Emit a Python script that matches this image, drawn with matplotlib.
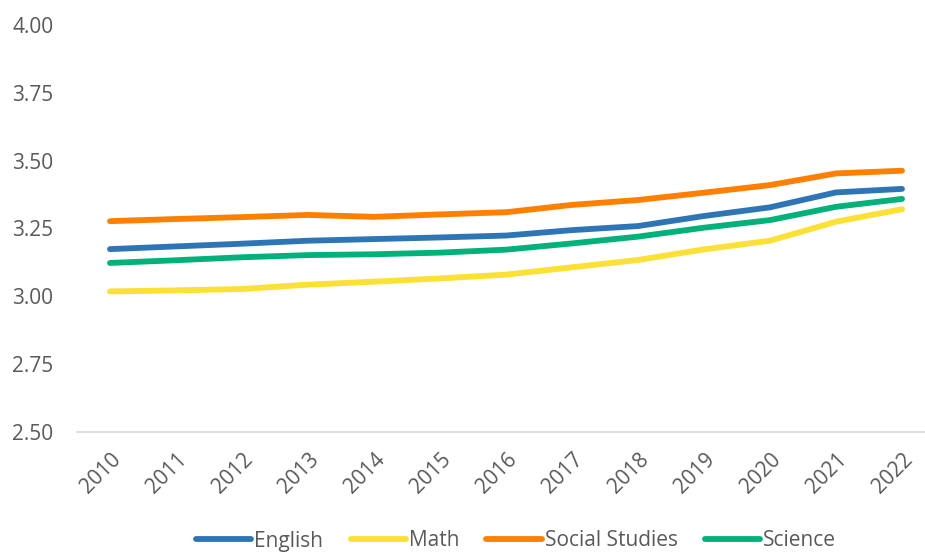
import matplotlib
matplotlib.use("Agg")
import matplotlib.pyplot as plt

years = [str(y) for y in range(2010, 2023)]

english = [3.174, 3.184, 3.194, 3.205, 3.211, 3.217, 3.224, 3.244, 3.259, 3.296, 3.328, 3.383, 3.396]
math_ = [3.018, 3.022, 3.027, 3.043, 3.054, 3.066, 3.080, 3.107, 3.134, 3.173, 3.205, 3.275, 3.321]
social = [3.277, 3.285, 3.292, 3.300, 3.293, 3.302, 3.310, 3.337, 3.355, 3.382, 3.410, 3.453, 3.463]
science = [3.123, 3.133, 3.144, 3.152, 3.155, 3.161, 3.172, 3.195, 3.220, 3.253, 3.281, 3.330, 3.359]

series_names = ["English", "Math", "Social Studies", "Science"]
colors = ["#2E75B6", "#FBE035", "#FF8000", "#00B27A"]

plt.rcParams['font.family'] = ['Open Sans', 'DejaVu Sans']
text_color = "#595959"

fig = plt.figure(figsize=(9.25, 5.53), dpi=100)
ax = fig.add_axes([77 / 925, 1 - 432 / 553, (935 - 77) / 925, (432 - 25) / 553])

x = list(range(len(years)))
for name, vals, c in zip(series_names, [english, math_, social, science], colors):
    ax.plot(x, vals, color=c, lw=4.2, solid_capstyle='round', label=name)

ax.set_xlim(-0.5, len(years) - 0.5)
ax.set_ylim(2.5, 4.0)
ax.set_yticks([2.5, 2.75, 3.0, 3.25, 3.5, 3.75, 4.0])
ax.set_yticklabels([f"{v:.2f}" for v in ax.get_yticks()])
ax.set_xticks(x)
ax.set_xticklabels(years, rotation=45, ha='right', rotation_mode='anchor')
ax.tick_params(axis='both', length=0, labelsize=15, labelcolor=text_color)
ax.tick_params(axis='y', pad=17)
ax.tick_params(axis='x', pad=12)

for s in ['top', 'right', 'left']:
    ax.spines[s].set_visible(False)
ax.spines['bottom'].set_color('#D9D9D9')
ax.spines['bottom'].set_linewidth(1.2)

leg = fig.legend(loc='center', bbox_to_anchor=(0.558, 12 / 553), ncol=4, frameon=False,
                 fontsize=15, handlelength=2.65, columnspacing=1.3, handletextpad=0.15,
                 borderpad=0)
for t in leg.get_texts():
    t.set_color(text_color)

fig.savefig("out.png", dpi=100)
